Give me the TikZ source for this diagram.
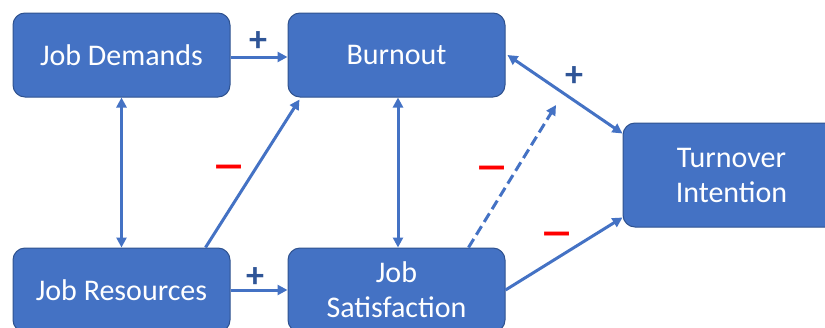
\documentclass[tikz,border=0pt]{standalone}
\usepackage{fontspec}
\usepackage{graphicx}
\setmainfont{Carlito}
\usetikzlibrary{arrows.meta,calc}
\definecolor{boxblue}{HTML}{4472C4}
\definecolor{boxedge}{HTML}{2F528F}
\definecolor{plusblue}{HTML}{2F5597}
\definecolor{minusred}{HTML}{FF0000}
\tikzset{
  box/.style={draw=boxedge, line width=1pt, fill=boxblue, rounded corners=12pt,
    minimum width=217pt, minimum height=84pt, text=white, align=center,
    font=\fontsize{30}{35}\selectfont, inner sep=0pt},
  conn/.style={draw=boxblue, line width=3pt, -{Triangle[length=10pt,width=10pt]}},
  biconn/.style={draw=boxblue, line width=3pt, {Triangle[length=10pt,width=10pt]}-{Triangle[length=10pt,width=10pt]}},
  pluslbl/.style={text=plusblue, font=\fontsize{36}{36}\selectfont\bfseries, inner sep=0pt},
  minuslbl/.style={text=minusred, font=\fontsize{44}{44}\selectfont\bfseries, inner sep=0pt}
}
\newcommand{\widedash}{\scalebox{1.6}[1]{–}}
\begin{document}
\begin{tikzpicture}[x=1pt,y=-1pt]
\useasboundingbox (0,0) rectangle (825,327);
\clip (0,0) rectangle (825,327);
\node[box] (jd) at (121.5,55) {Job Demands};
\node[box] (bo) at (396.5,55) {Burnout};
\node[box] (jr) at (121.5,290) {Job Resources};
\node[box] (js) at (396.5,290) {Job\\Satisfaction};
\node[box, minimum height=104pt] (tt) at (731.5,175) {Turnover\\Intention};
\coordinate (dashend) at (556,105);
\draw[conn] ([yshift=-2pt]jd.east) -- ([yshift=-2pt]bo.west);
\draw[conn] (jr.east) -- (js.west);
\draw[biconn] (jd.south) -- (jr.north);
\draw[biconn] ([xshift=1.5pt]bo.south) -- ([xshift=1.5pt]js.north);
\draw[conn] ([xshift=84pt]jr.north) -- ([xshift=12pt,yshift=-2pt]bo.south west);
\draw[conn, dashed, dash pattern=on 10pt off 5pt] ([xshift=-37pt]js.north east) -- (dashend);
\draw[biconn] ([xshift=2pt]bo.east) -- ([yshift=-11pt]tt.north west);
\draw[conn] (js.east) -- ([yshift=10pt]tt.south west);
\node[pluslbl] (p1) at (258,42) {+};
\node[pluslbl] (p2) at (255,278) {+};
\node[pluslbl] (p3) at (574,77) {+};
\node[minuslbl] (m1) at (229,172) {\widedash};
\node[minuslbl] (m2) at (492,173) {\widedash};
\node[minuslbl] (m3) at (557,239) {\widedash};
\end{tikzpicture}
\end{document}
